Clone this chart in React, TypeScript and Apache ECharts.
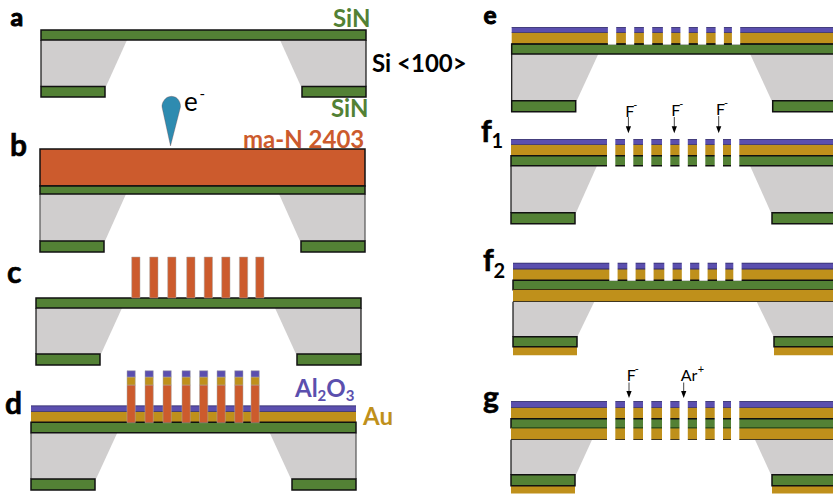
import React, { useEffect, useRef } from "react";
import * as echarts from "echarts";

// materials
const SI = 0, SIN = 1, AU = 2, AL = 3, RESIST = 4, RESIST_BAR = 5, GAP = 6, EDGE = 7, SOFT_EDGE = 8, AL_EDGE = 9, AU_BAR = 10, AL_BAR = 11, GREEN_EDGE = 12;

const panelLeft = [41, 40, 36, 31, 511.7, 511, 513, 511];
const panelWidth = 325;
const stackMaterials = [
  [SIN],
  [RESIST, SIN],
  [SIN],
  [AL, AU, SIN],
  [AL, AU, SIN],
  [AL, AU, SIN],
  [AL, AU, SIN, AU],
  [AL, AU, SIN, AU],
];
const stackEdges = [
  [30, 40],
  [149, 186, 194],
  [298, 308],
  [405.7, 411.7, 422.3, 432.7],
  [27.3, 32.7, 44, 54],
  [139.3, 144.7, 155.7, 165.7],
  [263, 269, 280.3, 289.7, 301.7],
  [401.3, 407.7, 418.7, 427.7, 439.7],
];
const siBottom = [86.5, 241, 354, 479, 100.7, 212.7, 336.7, 474.7];
const padBottom = [97, 252, 365, 490, 111.7, 223.7, 346.7, 485.7];
const padAuBottom = [0, 0, 0, 0, 0, 0, 355.3, 493.5];
const taperTop = [86, 86, 86, 86.3, 86.6, 86, 81.3, 81];
const taperBottom = [65, 65, 65, 65, 65, 65, 64.3, 65];
const padWidth = 64;
const siEdge = [EDGE, SOFT_EDGE, EDGE, SOFT_EDGE, EDGE, EDGE, EDGE, EDGE];

const lineOffsets = [96, 114, 132, 151, 168.5, 186, 203.7, 220];
const lineWidth = 8.3;
const lineShift = [0, 0, -0.3, 0, 0.2, 0, 0.3, 0];
const gapTop = [0, 0, 0, 0, 26, 138, 262, 400];
const gapBottom = [0, 0, 0, 0, 44.7, 167.8, 280.8, 441];

const cResistTop = 257;
const dAlTop = 370.7;
const dAuTop = 377;
const dResistTop = 385;
const dResistBottom = 422.7;
const CPANEL = 2, DPANEL = 3, GPANEL = 7;

const letters: [string, number, number, number, number][] = [
  ["a", 10.5, 24.5, 25, 1], ["b", 10, 155, 30, 0.6], ["c", 7, 282, 30, 0.6], ["d", 5, 413, 30, 0.6], ["e", 483.5, 23.8, 24.5, 1], ["g", 483, 407, 30, 0.6],
];
const fLetters: [string, string, number, number, number, number][] = [
  ["f", "1", 481, 140.7, 491.5, 147],
  ["f", "2", 483, 270, 493.5, 277.5],
];
const ionLabels: [string, string, number, number][] = [
  ["F", "-", 625.3, 116], ["F", "-", 671.3, 115], ["F", "-", 716, 114], ["F", "-", 626.7, 380.7], ["Ar", "+", 680.7, 380.7],
];
const ionArrows: [number, number, number][] = [
  [628.4, 117, 133.3], [674.3, 117, 133.3], [718.7, 116, 133.3], [629, 382.5, 398], [683.7, 382.5, 398],
];

const fills: Record<number, string> = {
  [SI]: "#d0cece", [SIN]: "#538135", [AU]: "#bf901b", [AL]: "#5b4fae", [RESIST]: "#cc5b2d",
  [RESIST_BAR]: "#cc5b2d", [GAP]: "#ffffff", [EDGE]: "#111111", [SOFT_EDGE]: "#555555", [AL_EDGE]: "#2f2a66",
  [AU_BAR]: "#bf901b", [AL_BAR]: "#5b4fae", [GREEN_EDGE]: "#2f5220",
};
const strokes: Record<number, [string, number] | undefined> = {
  [SIN]: ["#111111", 1.5], [RESIST]: ["#111111", 1.5],
  [RESIST_BAR]: ["#a9a9a9", 0.5], [AU_BAR]: ["#a9a9a9", 0.5], [AL_BAR]: ["#a9a9a9", 0.5],
};

function rect(x0: number, y0: number, x1: number, y1: number, m: number) {
  return [x0, y0, x1, y0, x1, y1, x0, y1, m];
}

function buildMarks() {
  const out: number[][] = [];
  panelLeft.forEach((L, i) => {
    const R = L + panelWidth;
    const edges = stackEdges[i];
    const siTop = edges[edges.length - 1];
    out.push([L, siTop, L + taperTop[i], siTop, L + taperBottom[i], siBottom[i], L, siBottom[i], SI]);
    out.push([R - taperTop[i], siTop, R, siTop, R, siBottom[i], R - taperBottom[i], siBottom[i], SI]);
    out.push(rect(L - 0.6, siTop, L + 0.6, siBottom[i], siEdge[i]));
    out.push(rect(R - 0.6, siTop, R + 0.6, siBottom[i], siEdge[i]));
    if (padAuBottom[i]) {
      out.push(rect(L, padBottom[i], L + padWidth, padAuBottom[i], AU));
      out.push(rect(R - padWidth, padBottom[i], R, padAuBottom[i], AU));
    }
    out.push(rect(L, siBottom[i], L + padWidth, padBottom[i], SIN));
    out.push(rect(R - padWidth, siBottom[i], R, padBottom[i], SIN));
    stackMaterials[i].forEach((m, k) => {
      out.push(rect(L, edges[k], R, edges[k + 1], m));
    });
    stackMaterials[i].forEach((m, k) => {
      if (m === AL) {
        out.push(rect(L, edges[k] - 0.3, R, edges[k] + 0.5, AL_EDGE));
        out.push(rect(L, edges[k + 1] - 0.4, R, edges[k + 1] + 0.4, AL_EDGE));
      }
      if (m === AU) {
        out.push(rect(L, edges[k + 1] - 0.4, R, edges[k + 1] + 0.4, EDGE));
      }
    });
    if (i === GPANEL) {
      out.push(rect(L + 0.8, edges[3] - 0.8, R, edges[3] + 0.8, GREEN_EDGE));
    }
    if (gapTop[i]) {
      lineOffsets.forEach((o) => {
        const x = L + o + lineShift[i];
        out.push(rect(x, gapTop[i], x + lineWidth, gapBottom[i], GAP));
      });
    }
    if (i === CPANEL) {
      lineOffsets.forEach((o) => {
        const x = L + o + lineShift[i];
        out.push(rect(x, cResistTop, x + lineWidth, edges[0], RESIST_BAR));
      });
    }
    if (i === DPANEL) {
      lineOffsets.forEach((o) => {
        const x = L + o + lineShift[i];
        out.push(rect(x, dResistTop, x + lineWidth, dResistBottom, RESIST_BAR));
        out.push(rect(x, dAuTop, x + lineWidth, dResistTop, AU_BAR));
        out.push(rect(x, dAlTop, x + lineWidth, dAuTop, AL_BAR));
      });
    }
  });
  return out;
}

const DROP = "M170.5 146 L162 107 C161.5 103 165 98 168 97 Q171.5 95.5 175 97 C178 98 181 103 180.5 107 Z";
const ARROW_HEAD = "M-2.6 -7 L2.6 -7 L0 0 Z";

export default function App() {
  const ref = useRef<HTMLDivElement>(null);
  useEffect(() => {
    if (!ref.current) return;
    document.body.style.margin = "0";
    document.documentElement.style.overflow = "hidden";
    echarts.graphic.registerShape("drop", echarts.graphic.extendPath(DROP, {}));
    echarts.graphic.registerShape("arrowhead", echarts.graphic.extendPath(ARROW_HEAD, {}));
    const chart = echarts.init(ref.current, undefined, { renderer: "svg" });

    const t = (text: string, x: number, base: number, fill: string, size: number, weight: string, heavy = 0) => ({
      type: "text",
      x,
      y: base + size * 0.14,
      silent: true,
      style: {
        text, fill, font: `${weight} ${size}px Lato`, textAlign: "left", textVerticalAlign: "bottom",
        stroke: heavy ? fill : "none", lineWidth: heavy,
      },
    });

    const graphics: any[] = [];
    graphics.push({ type: "drop", x: 0, y: 0, silent: true, style: { fill: "#2e8bb0", stroke: "#7a3a35", lineWidth: 0.3 } });
    letters.forEach(([s, x, b, size, heavy]) => graphics.push(t(s, x, b, "#000000", size, "bold", heavy)));
    fLetters.forEach(([s, sub, x, b, sx, sb]) => {
      graphics.push(t(s, x, b, "#000000", 30, "bold", 0.6));
      graphics.push(t(sub, sx, sb, "#000000", 20, "bold"));
    });
    graphics.push(t("SiN", 333, 26.3, "#538135", 24, "bold"));
    graphics.push(t("SiN", 331, 115.7, "#538135", 24, "bold"));
    graphics.push(t("Si <100>", 372, 70.7, "#000000", 24, "bold"));
    graphics.push(t("ma-N 2403", 243, 146.7, "#cc5b2d", 24, "bold"));
    graphics.push(t("Au", 363, 424, "#bf901b", 24, "bold"));
    graphics.push(t("e", 184, 110, "#000000", 26, "normal"));
    graphics.push(t("-", 199.5, 98, "#000000", 15, "normal"));
    graphics.push({
      type: "text", x: 295, y: 402, silent: true,
      style: {
        text: "{m|Al}{s|2}{m|O}{s|3}", textAlign: "left", textVerticalAlign: "bottom",
        rich: {
          m: { font: "bold 24px Lato", fill: "#5b4fae", lineHeight: 29 },
          s: { font: "bold 15px Lato", fill: "#5b4fae", verticalAlign: "bottom", lineHeight: 16 },
        },
      },
    });
    ionLabels.forEach(([s, sup, x, b]) => {
      graphics.push(t(s, x, b, "#000000", 16, "normal"));
      graphics.push(t(sup, x + (s.length > 1 ? 17 : 8), b - 8, "#000000", 11, "normal"));
    });
    ionArrows.forEach(([x, y0, y1]) => {
      graphics.push({ type: "line", silent: true, shape: { x1: x, y1: y0, x2: x, y2: y1 - 5 }, style: { stroke: "#444444", lineWidth: 1 } });
      graphics.push({ type: "arrowhead", x, y: y1, silent: true, style: { fill: "#000000" } });
    });

    chart.setOption({
      animation: false,
      backgroundColor: "#ffffff",
      grid: { left: 0, right: 0, top: 0, bottom: 0 },
      xAxis: { type: "value", min: 0, max: 833, show: false },
      yAxis: { type: "value", min: 0, max: 494, inverse: true, show: false },
      tooltip: { show: false },
      series: [
        {
          type: "custom",
          silent: true,
          clip: false,
          coordinateSystem: "cartesian2d",
          encode: { x: [0, 2, 4, 6], y: [1, 3, 5, 7] },
          data: buildMarks(),
          renderItem: (_p: any, api: any) => {
            const points = [0, 2, 4, 6].map((k) => api.coord([api.value(k), api.value(k + 1)]));
            const m = api.value(8);
            const s = strokes[m];
            return {
              type: "polygon",
              shape: { points },
              style: { fill: fills[m], stroke: s ? s[0] : "none", lineWidth: s ? s[1] : 0 },
            };
          },
        },
      ],
      graphic: { elements: graphics },
    });
    return () => chart.dispose();
  }, []);
  return <div ref={ref} style={{ width: 833, height: 494 }} />;
}
